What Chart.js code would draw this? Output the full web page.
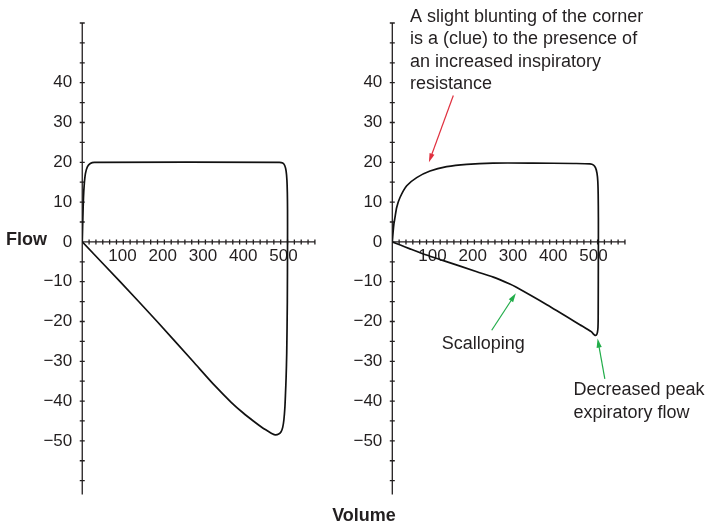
<!DOCTYPE html>
<html>
<head>
<meta charset="utf-8">
<title>Flow-volume loops</title>
<script src="https://cdn.jsdelivr.net/npm/chart.js@4/dist/chart.umd.min.js"></script>
<style>
  body { margin: 0; background: #fff; }
  #wrap { position: relative; width: 712px; height: 522px; overflow: hidden; }
  canvas { position: absolute; top: 0; }
  #normal { left: 0; }
  #obstructed { left: 320px; }
</style>
</head>
<body>
<div id="wrap">
  <canvas id="normal" width="400" height="522"></canvas>
  <canvas id="obstructed" width="392" height="522"></canvas>
</div>
<script>
// axis ranges and ticks (volume in mL, flow in L/min)
const volumeRange = [0, 578];
const flowRange = [-63.5, 55];
const volumeTickStep = 17;
const flowTickStep = 5;
const volumeLabels = [100, 200, 300, 400, 500];
const flowLabels = [40, 30, 20, 10, 0, -10, -20, -30, -40, -50];

// normal loop: inspiration on top, expiration below
const normalVolume = [0, 1.5, 3, 5, 8, 13, 20, 30, 490, 498, 503, 506.5, 508.5, 509.5, 510, 510,
  509.5, 508, 506.5, 505, 503.5, 501, 498, 494, 488, 480, 472, 462, 445, 425, 400, 370, 330, 275, 186, 94, 0];
const normalFlow = [0, 6, 11, 14.5, 17.2, 18.9, 19.7, 20, 20, 19.8, 19.2, 17.8, 15.5, 12.5, 8, 0,
  -15, -28, -34, -38, -41.5, -44.7, -46.6, -47.7, -48.3, -48.5, -48.2, -47.6, -46.5, -45, -43, -40.3, -36.2, -30, -20, -10, 0];

// loop with increased resistance
const obstructedVolume = [0, 2, 4, 6.7, 10.9, 19.1, 35.8, 60.6, 93.7, 135, 185, 250, 350, 450, 491, 500, 505, 508.5, 510.5, 511.5, 512, 512,
  511.5, 511, 509.5, 507, 504, 500, 495, 466, 384, 306, 292, 251, 210, 127, 85, 44, 20, 0];
const obstructedFlow = [0, 2.5, 4.5, 6.15, 8.65, 11.15, 14.1, 16.15, 17.8, 18.9, 19.5, 19.8, 19.8, 19.7, 19.6, 19.3, 18.6, 17.3, 15.3, 12, 6, 0,
  -19, -21.5, -22.8, -23.4, -23.5, -23.2, -22.6, -20.8, -15.8, -11.3, -10.6, -8.85, -7.5, -4.7, -3.3, -1.75, -0.8, 0];

// callouts on the right loop, in (volume, flow) units
const bluntingNote = ['A slight blunting of the corner', 'is a (clue) to the presence of', 'an increased inspiratory', 'resistance'];
const bluntingAt = [44, 56.5];
const bluntingArrow = [[151.6, 36.8], [91, 20]];
const scallopNote = ['Scalloping'];
const scallopAt = [123, -25.6];
const scallopArrow = [[247, -22.2], [307, -12.9]];
const peakNote = ['Decreased peak', 'expiratory flow'];
const peakAt = [450, -37.3];
const peakArrow = [[528, -34.4], [510, -24.3]];

const ink = '#231f20';
const red = '#e0303f';
const green = '#22ad4a';
const tickFont = '17px "Liberation Sans", Arial, sans-serif';
const noteFont = '18px "Liberation Sans", Arial, sans-serif';
const titleFont = 'bold 18px "Liberation Sans", Arial, sans-serif';

const fmt = v => (v < 0 ? '\u2212' + Math.abs(v) : String(v));
const toPoints = (xs, ys) => xs.map((v, i) => ({ x: v, y: ys[i] }));

// axes crossing at the origin, ticks through the line
const crossAxes = {
  id: 'crossAxes',
  beforeDatasetsDraw(chart, args, opts) {
    const { ctx, chartArea: area, scales: { x, y } } = chart;
    const x0 = x.getPixelForValue(0);
    const y0 = y.getPixelForValue(0);
    ctx.save();
    ctx.strokeStyle = ink;
    ctx.lineWidth = 1.3;
    ctx.beginPath();
    ctx.moveTo(x0, area.top);
    ctx.lineTo(x0, area.bottom);
    ctx.moveTo(area.left, y0);
    ctx.lineTo(area.right, y0);
    for (let v = Math.ceil(flowRange[0] / flowTickStep) * flowTickStep; v <= flowRange[1]; v += flowTickStep) {
      if (v === 0) continue;
      const py = y.getPixelForValue(v);
      ctx.moveTo(x0 - 2.5, py);
      ctx.lineTo(x0 + 2.5, py);
    }
    for (let v = volumeTickStep; v <= volumeRange[1] + 0.01; v += volumeTickStep) {
      const px = x.getPixelForValue(v);
      ctx.moveTo(px, y0 - 2.5);
      ctx.lineTo(px, y0 + 2.5);
    }
    ctx.stroke();

    ctx.fillStyle = ink;
    ctx.font = tickFont;
    ctx.textAlign = 'right';
    ctx.textBaseline = 'middle';
    flowLabels.forEach(v => ctx.fillText(fmt(v), x0 - 10, y.getPixelForValue(v)));
    ctx.textAlign = 'center';
    volumeLabels.forEach(v => ctx.fillText(fmt(v), x.getPixelForValue(v), y0 + 14));

    ctx.font = titleFont;
    if (opts.flowTitle) {
      ctx.textAlign = 'left';
      ctx.fillText(opts.flowTitle, 6, y0 - 2);
    }
    if (opts.volumeTitle) {
      ctx.textAlign = 'center';
      ctx.fillText(opts.volumeTitle.text, opts.volumeTitle.x, opts.volumeTitle.y);
    }
    ctx.restore();
  }
};

function arrow(ctx, x, y, from, to, color) {
  const x1 = x.getPixelForValue(from[0]), y1 = y.getPixelForValue(from[1]);
  const x2 = x.getPixelForValue(to[0]), y2 = y.getPixelForValue(to[1]);
  const a = Math.atan2(y2 - y1, x2 - x1);
  const len = 9, half = 2.6;
  ctx.strokeStyle = color;
  ctx.fillStyle = color;
  ctx.lineWidth = 1.2;
  ctx.beginPath();
  ctx.moveTo(x1, y1);
  ctx.lineTo(x2 - Math.cos(a) * len * 0.8, y2 - Math.sin(a) * len * 0.8);
  ctx.stroke();
  ctx.beginPath();
  ctx.moveTo(x2, y2);
  ctx.lineTo(x2 - Math.cos(a) * len - Math.sin(a) * half, y2 - Math.sin(a) * len + Math.cos(a) * half);
  ctx.lineTo(x2 - Math.cos(a) * len + Math.sin(a) * half, y2 - Math.sin(a) * len - Math.cos(a) * half);
  ctx.closePath();
  ctx.fill();
}

const callouts = {
  id: 'callouts',
  afterDatasetsDraw(chart, args, opts) {
    if (!opts.notes) return;
    const { ctx, scales: { x, y } } = chart;
    ctx.save();
    ctx.font = noteFont;
    ctx.textAlign = 'left';
    ctx.textBaseline = 'middle';
    opts.notes.forEach(n => {
      ctx.fillStyle = ink;
      const px = x.getPixelForValue(n.at[0]);
      const py = y.getPixelForValue(n.at[1]);
      n.lines.forEach((line, i) => ctx.fillText(line, px, py + i * 22.5));
      arrow(ctx, x, y, n.arrow[0], n.arrow[1], n.color);
    });
    ctx.restore();
  }
};

function makeLoop(id, volume, flow, padding, plugins) {
  return new Chart(document.getElementById(id), {
    type: 'scatter',
    data: {
      datasets: [{
        data: toPoints(volume, flow),
        showLine: true,
        borderColor: '#111',
        borderWidth: 1.7,
        pointRadius: 0,
        tension: 0.25,
        fill: false
      }]
    },
    options: {
      responsive: false,
      animation: false,
      layout: { padding },
      scales: {
        x: { type: 'linear', min: volumeRange[0], max: volumeRange[1], display: false },
        y: { type: 'linear', min: flowRange[0], max: flowRange[1], display: false }
      },
      plugins: Object.assign({ legend: { display: false }, tooltip: { enabled: false } }, plugins)
    },
    plugins: [crossAxes, callouts]
  });
}

makeLoop('normal', normalVolume, normalFlow,
  { left: 82.25, right: 85.1, top: 23, bottom: 27.4 },
  { crossAxes: { flowTitle: 'Flow', volumeTitle: { text: 'Volume', x: 364, y: 516 } } });

makeLoop('obstructed', obstructedVolume, obstructedFlow,
  { left: 72.3, right: 87.05, top: 23, bottom: 27.4 },
  {
    crossAxes: {},
    callouts: {
      notes: [
        { lines: bluntingNote, at: bluntingAt, arrow: bluntingArrow, color: red },
        { lines: scallopNote, at: scallopAt, arrow: scallopArrow, color: green },
        { lines: peakNote, at: peakAt, arrow: peakArrow, color: green }
      ]
    }
  });
</script>
</body>
</html>
